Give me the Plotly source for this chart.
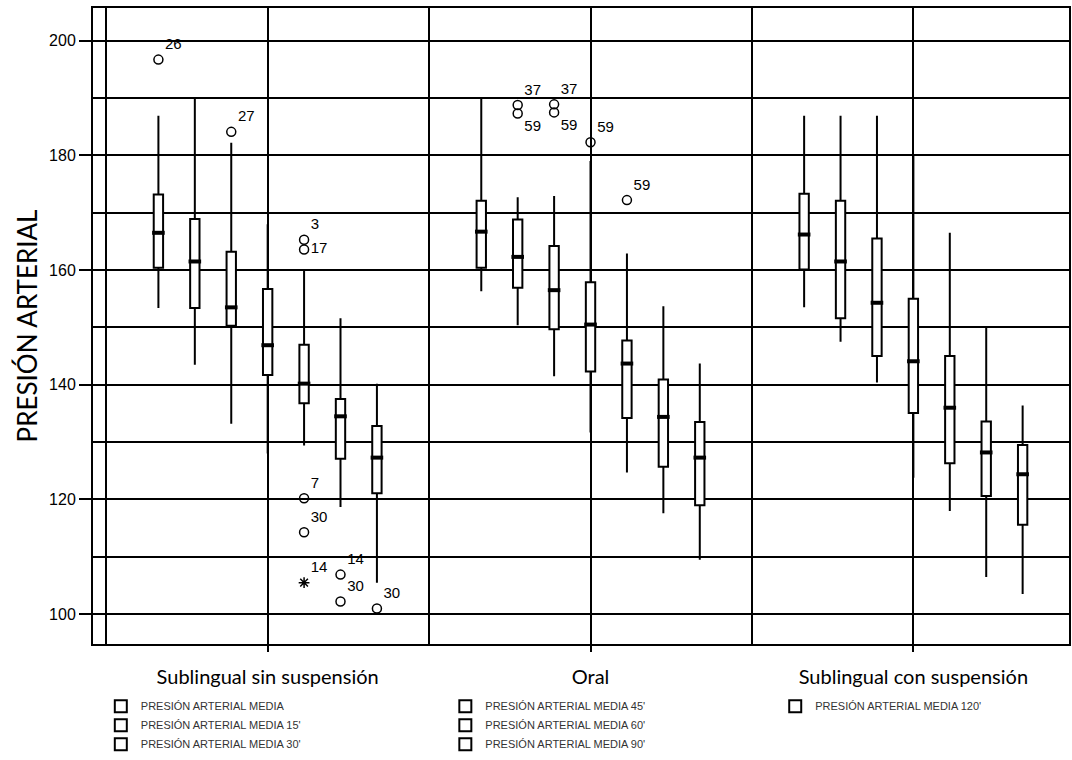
import plotly.graph_objects as go

# Treatment groups on the x axis and the seven measurement times shown in each
GROUPS = ["Sublingual sin suspensión", "Oral", "Sublingual con suspensión"]
SERIES = [
    "PRESIÓN ARTERIAL MEDIA",
    "PRESIÓN ARTERIAL MEDIA 15'",
    "PRESIÓN ARTERIAL MEDIA 30'",
    "PRESIÓN ARTERIAL MEDIA 45'",
    "PRESIÓN ARTERIAL MEDIA 60'",
    "PRESIÓN ARTERIAL MEDIA 90'",
    "PRESIÓN ARTERIAL MEDIA 120'",
]

# Box statistics: one row per measurement time, one value per group
LOWER = [
    [153.4, 156.3, 153.5],
    [143.5, 150.4, 147.5],
    [133.2, 141.5, 140.4],
    [128.0, 131.7, 123.8],
    [129.4, 124.7, 118.0],
    [118.7, 117.6, 106.5],
    [105.5, 109.5, 103.5],
]
Q1 = [
    [160.4, 160.4, 160.1],
    [153.4, 156.9, 151.6],
    [150.3, 149.7, 145.0],
    [141.7, 142.3, 135.1],
    [136.8, 134.2, 126.3],
    [127.1, 125.7, 120.6],
    [121.1, 119.0, 115.6],
]
MEDIAN = [
    [166.5, 166.7, 166.2],
    [161.5, 162.3, 161.5],
    [153.5, 156.5, 154.3],
    [146.9, 150.5, 144.1],
    [140.2, 143.7, 136.0],
    [134.5, 134.4, 128.2],
    [127.3, 127.3, 124.4],
]
Q3 = [
    [173.2, 172.1, 173.3],
    [168.9, 168.8, 172.1],
    [163.2, 164.2, 165.5],
    [156.7, 157.9, 155.0],
    [147.0, 147.7, 145.0],
    [137.5, 140.9, 133.6],
    [132.8, 133.5, 129.5],
]
UPPER = [
    [186.9, 190.0, 186.9],
    [190.0, 172.7, 186.9],
    [182.2, 172.9, 186.9],
    [168.0, 179.0, 180.0],
    [160.0, 162.9, 166.5],
    [151.6, 153.7, 150.0],
    [140.2, 143.7, 136.4],
]

# Outlying cases: group index, series index, value, case number
OUT_GROUP = [0, 0, 0, 0, 0, 0, 0, 0, 0, 0, 1, 1, 1, 1, 1, 1]
OUT_SERIES = [0, 2, 4, 4, 4, 4, 4, 5, 5, 6, 1, 1, 2, 2, 3, 4]
OUT_VALUE = [196.7, 184.1, 165.3, 163.6, 120.2, 114.3, 105.5, 106.9, 102.2, 101.0,
             188.8, 187.3, 188.9, 187.5, 182.3, 172.2]
OUT_CASE = ["26", "27", "3", "17", "7", "30", "14", "14", "30", "30",
            "37", "59", "37", "59", "59", "59"]
OUT_EXTREME = [False, False, False, False, False, False, True, False, False, False,
               False, False, False, False, False, False]

Y_TICKS = [100, 120, 140, 160, 180, 200]

# Layout of boxes inside each group
STEP = 0.1128
BOX_W = 0.029
LABEL_POS = ["top right", "top right", "top right", "middle right", "top right",
             "top right", "top right", "top right", "top right", "top right",
             "top right", "bottom right", "top right", "bottom right", "top right",
             "top right"]
LEGEND_OF = ["legend", "legend", "legend", "legend2", "legend2", "legend2", "legend3"]


def pos(g, s):
    return g + (s - 3) * STEP


fig = go.Figure()

for s, name in enumerate(SERIES):
    xs = [pos(g, s) for g in range(len(GROUPS))]
    fig.add_trace(go.Box(
        x=xs, q1=Q1[s], median=MEDIAN[s], q3=Q3[s],
        lowerfence=LOWER[s], upperfence=UPPER[s],
        width=BOX_W, whiskerwidth=0, boxpoints=False,
        fillcolor="white", line=dict(color="black", width=2),
        name=name, legend=LEGEND_OF[s], hoverinfo="skip",
    ))

# heavier median bars
med_x, med_y = [], []
for s in range(len(SERIES)):
    for g in range(len(GROUPS)):
        med_x.append(pos(g, s))
        med_y.append(MEDIAN[s][g])
fig.add_trace(go.Scatter(
    x=med_x, y=med_y, mode="markers", showlegend=False, hoverinfo="skip",
    marker=dict(symbol="line-ew", size=9, line=dict(color="black", width=4)),
))

# outliers with case labels
ox = [pos(g, s) for g, s in zip(OUT_GROUP, OUT_SERIES)]
fig.add_trace(go.Scatter(
    x=ox, y=OUT_VALUE, mode="markers+text", text=OUT_CASE,
    textposition=LABEL_POS, showlegend=False, hoverinfo="skip",
    textfont=dict(family="Liberation Sans", size=15, color="black"),
    marker=dict(
        symbol=["asterisk-open" if e else "circle-open" for e in OUT_EXTREME],
        size=9,
        color="black", line=dict(color="black", width=1.5),
    ),
))

legend_style = dict(
    orientation="v", xanchor="left", yanchor="top",
    font=dict(family="Liberation Sans", size=11, color="#333333"),
    bgcolor="rgba(0,0,0,0)", tracegroupgap=0, itemwidth=30,
)

fig.update_layout(
    width=1072, height=760,
    margin=dict(l=93, r=1, t=8, b=110),
    paper_bgcolor="white", plot_bgcolor="white",
    showlegend=True,
    legend=dict(x=0.008, y=-0.075, **legend_style),
    legend2=dict(x=0.361, y=-0.075, **legend_style),
    legend3=dict(x=0.699, y=-0.075, **legend_style),
    xaxis=dict(
        range=[-0.541, 2.482], tickmode="array", tickvals=list(range(len(GROUPS))),
        ticktext=GROUPS, tickfont=dict(family="Lato", size=20, color="black"),
        showgrid=True, gridcolor="black", gridwidth=2,
        minor=dict(tickvals=[-0.5, 0.5, 1.5, 2.5], showgrid=True,
                   gridcolor="black", gridwidth=2, ticks=""),
        showline=True, mirror=True, linecolor="black", linewidth=2,
        ticks="outside", ticklen=6, tickcolor="black", tickwidth=2,
        ticklabelstandoff=8, zeroline=False,
    ),
    yaxis=dict(
        range=[94.8, 205.7], tickmode="array", tickvals=Y_TICKS,
        tickfont=dict(family="Liberation Sans", size=16, color="black"),
        showgrid=True, gridcolor="black", gridwidth=2,
        minor=dict(dtick=10, tick0=100, showgrid=True, gridcolor="black",
                   gridwidth=2, ticks=""),
        showline=True, mirror=True, linecolor="black", linewidth=2,
        ticks="outside", ticklen=12, tickcolor="black", tickwidth=2,
        zeroline=False,
        title=dict(text="PRESIÓN ARTERIAL", standoff=4,
                   font=dict(family="Lato", size=26, color="black")),
    ),
)

fig.write_html("out.html")
